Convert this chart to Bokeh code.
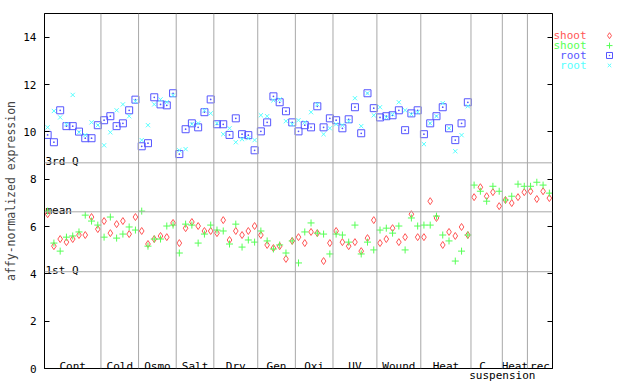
import numpy as np
from bokeh.plotting import figure
from bokeh.layouts import row
from bokeh.models import Range1d, LinearAxis, FixedTicker, Span, CustomJSTickFormatter
from bokeh.core.properties import value
from bokeh.embed import file_html
from bokeh.resources import INLINE

FONT = "DejaVu Sans Mono"

group_names = ["Cont", "Cold", "Osmo", "Salt", "Dry", "Gen", "Oxi", "UV",
               "Wound", "Heat", "C suspension", "Heat", "rec"]
group_sizes = [9, 6, 6, 6, 7, 6, 6, 7, 7, 8, 5, 4, 4]

shoot_rep1 = [6.52, 5.17, 5.47, 5.34, 5.47, 5.64, 5.64, 6.40, 5.89,
              6.23, 5.72, 6.10, 6.23, 5.68, 6.40,
              5.81, 5.26, 5.47, 5.60, 5.55, 6.15,
              5.30, 5.93, 6.19, 6.02, 5.81, 5.81,
              5.72, 6.27, 5.43, 5.81, 5.64, 5.81, 6.02,
              5.64, 5.22, 5.09, 5.17, 4.63, 5.39,
              5.55, 5.30, 5.77, 5.72, 4.54, 5.30,
              5.81, 5.34, 5.17, 5.34, 4.96, 5.51, 6.27,
              5.30, 5.47, 5.93, 5.34, 5.55, 6.52, 5.55,
              5.55, 7.07, 6.36, 5.22, 5.77, 5.60, 5.98, 5.64,
              7.24, 7.66, 7.28, 7.45, 6.86,
              7.12, 6.99, 7.24, 7.45,
              7.49, 7.16, 7.49, 7.20]
shoot_rep2 = [6.65, 5.30, 4.96, 5.55, 5.60, 5.77, 6.48, 6.23, 6.06,
              5.55, 6.40, 5.51, 5.68, 5.98, 5.85,
              6.65, 5.17, 5.47, 5.47, 6.02, 6.06,
              4.88, 6.10, 6.06, 5.30, 5.68, 6.06,
              5.85, 5.81, 5.26, 6.10, 5.13, 5.43, 5.34,
              5.81, 5.39, 5.05, 5.22, 4.88, 5.39,
              4.46, 5.77, 6.15, 5.72, 5.68, 4.84,
              5.68, 5.64, 5.34, 6.06, 4.84, 5.34, 5.01,
              5.85, 5.93, 5.72, 6.02, 5.01, 6.36, 6.02,
              6.06, 6.06, 6.44, 5.64, 5.39, 4.54, 4.96, 5.64,
              7.75, 7.49, 7.07, 7.70, 7.49,
              7.12, 7.28, 7.79, 7.70,
              7.70, 7.87, 7.75, 7.41]
root_rep1 = [9.87, 9.56, 10.91, 10.24, 10.24, 10.01, 9.73, 9.73, 10.28,
             10.49, 10.66, 10.24, 10.36, 10.91, 11.36,
             9.39, 9.52, 11.46, 11.16, 11.12, 11.63,
             9.06, 10.11, 10.36, 10.19, 10.83, 11.37,
             10.32, 10.32, 9.87, 10.57, 9.90, 9.86, 9.22,
             10.02, 10.40, 11.50, 11.25, 10.87, 10.40,
             10.02, 10.28, 10.19, 11.08, 10.19, 10.57,
             10.49, 10.15, 10.53, 11.04, 9.94, 11.63, 11.00,
             10.61, 10.66, 10.70, 10.91, 10.07, 10.78, 10.91,
             9.90, 10.36, 10.66, 11.04, 10.15, 9.65, 10.36, 11.25]
root_rep2 = [10.19, 10.88, 10.61, 10.32, 11.56, 9.98, 9.86, 10.40, 10.28,
             9.43, 9.98, 10.91, 11.16, 10.66, 11.29,
             9.65, 10.28, 11.16, 11.37, 11.25, 11.54,
             9.22, 9.27, 10.32, 10.36, 10.91, 10.78,
             10.36, 9.90, 10.15, 9.56, 9.69, 9.73, 9.65,
             10.70, 10.66, 11.33, 11.37, 10.45, 10.32,
             10.49, 10.40, 10.83, 11.16, 9.90, 10.15,
             10.32, 10.28, 10.45, 11.42, 10.24, 11.63, 10.70,
             11.04, 10.61, 10.74, 11.25, 10.91, 10.74, 10.83,
             9.48, 10.36, 10.66, 11.21, 10.15, 9.18, 9.86, 11.08]

stat_values = [8.69, 6.62, 4.09]
stat_labels = ["3rd Q", "mean", "1st Q"]
y_ticks = [0, 2, 4, 6, 8, 10, 12, 14]

series_labels = ["shoot", "shoot", "root", "root"]
series_colors = ["#ff5555", "#55ff55", "#5555ff", "#55ffff"]
series_markers = ["diamond", "cross", "square_dot", "x"]
series_sizes = [7, 7, 7, 6]
series_data = [shoot_rep1, shoot_rep2, root_rep1, root_rep2]

n = sum(group_sizes)
bounds = np.cumsum(group_sizes) + 0.5
starts = bounds - np.array(group_sizes)
centers = (starts + bounds) / 2.0

W, H = 553, 384
p = figure(width=W, height=H,
           x_range=Range1d(0.5, n + 0.5), y_range=Range1d(0, 15),
           output_backend="svg", toolbar_location=None, x_axis_type=None,
           min_border_left=44, min_border_right=1, min_border_top=13,
           min_border_bottom=15)
p.grid.visible = False
p.outline_line_color = "black"
p.outline_line_alpha = 1.0
p.background_fill_color = "white"
p.border_fill_color = "white"

ya = p.yaxis[0]
ya.ticker = FixedTicker(ticks=y_ticks)
ya.major_tick_in = 5
ya.major_tick_out = 0
ya.minor_tick_line_color = None
ya.axis_line_color = "black"
ya.major_label_text_font = FONT
ya.major_label_text_font_size = "11px"
ya.major_label_text_color = "black"
ya.major_label_standoff = 8
ya.axis_label = "affy-normalized expression"
ya.axis_label_text_font = FONT
ya.axis_label_text_font_size = "11.5px"
ya.axis_label_text_font_style = "normal"
ya.axis_label_standoff = 2

ra = LinearAxis(ticker=FixedTicker(ticks=y_ticks), major_tick_in=5, major_tick_out=0,
                minor_tick_line_color=None, major_label_text_font_size="0px",
                major_label_text_color=None,
                formatter=CustomJSTickFormatter(code="return ''"),
                major_label_standoff=0, axis_line_color="black")
p.add_layout(ra, "right")

for v in stat_values:
    p.add_layout(Span(location=v, dimension="width", line_color="#a8a8a8", line_width=1))
for b in bounds[:-1]:
    p.add_layout(Span(location=b, dimension="height", line_color="#a8a8a8", line_width=1))

p.text(x=[0.5] * len(stat_values), y=stat_values, text=stat_labels, x_offset=1, y_offset=-1,
       text_baseline="alphabetic", text_align="left", text_font=value(FONT),
       text_font_size="11px", text_color="black")

first_lines = [g.split(" ")[0] for g in group_names]
xoffs = [-4 if " " in g else 0 for g in group_names]
p.text(x=list(centers), y=[0] * len(centers), text=first_lines, x_offset=xoffs, y_offset=-2,
       text_baseline="alphabetic", text_align="center", text_font=value(FONT),
       text_font_size="11px", text_color="black")

# second line of wrapped group names, drawn below the frame through a bottom axis
second_ticks = [float(b) for g, b in zip(group_names, bounds) if " " in g]
second_text = {float(b): g.split(" ", 1)[1] for g, b in zip(group_names, bounds) if " " in g}
xa = LinearAxis(ticker=FixedTicker(ticks=second_ticks), major_label_overrides=second_text,
                major_tick_in=0, major_tick_out=0, major_tick_line_color=None,
                minor_tick_line_color=None, axis_line_color=None,
                major_label_standoff=0, major_label_text_font=FONT,
                major_label_text_font_size="11px", major_label_text_color="black")
p.add_layout(xa, "below")

for data, col, mk, sz in zip(series_data, series_colors, series_markers, series_sizes):
    xs = np.arange(1, len(data) + 1)
    p.scatter(xs, data, marker=mk, size=sz, line_color=col, fill_color=None, line_width=1)

# legend panel (coloured label, then marker)
lw, lh = 640 - W, H
lg = figure(width=lw, height=lh, x_range=Range1d(0, lw), y_range=Range1d(lh, 0),
            output_backend="svg", toolbar_location=None, x_axis_type=None, y_axis_type=None,
            min_border=0, outline_line_color=None)
lg.grid.visible = False
ly = [24 + 10.7 * i for i in range(len(series_labels))]
lg.text(x=[33] * len(ly), y=ly, text=series_labels, text_align="right", text_baseline="middle",
        text_font=value(FONT), text_font_size="11px", text_color=series_colors)
for yy, col, mk, sz in zip(ly, series_colors, series_markers, series_sizes):
    lg.scatter([56], [yy], marker=mk, size=sz - 1, line_color=col, fill_color=None, line_width=1)

layout = row(p, lg)
open("out.html", "w").write(file_html(layout, INLINE))
